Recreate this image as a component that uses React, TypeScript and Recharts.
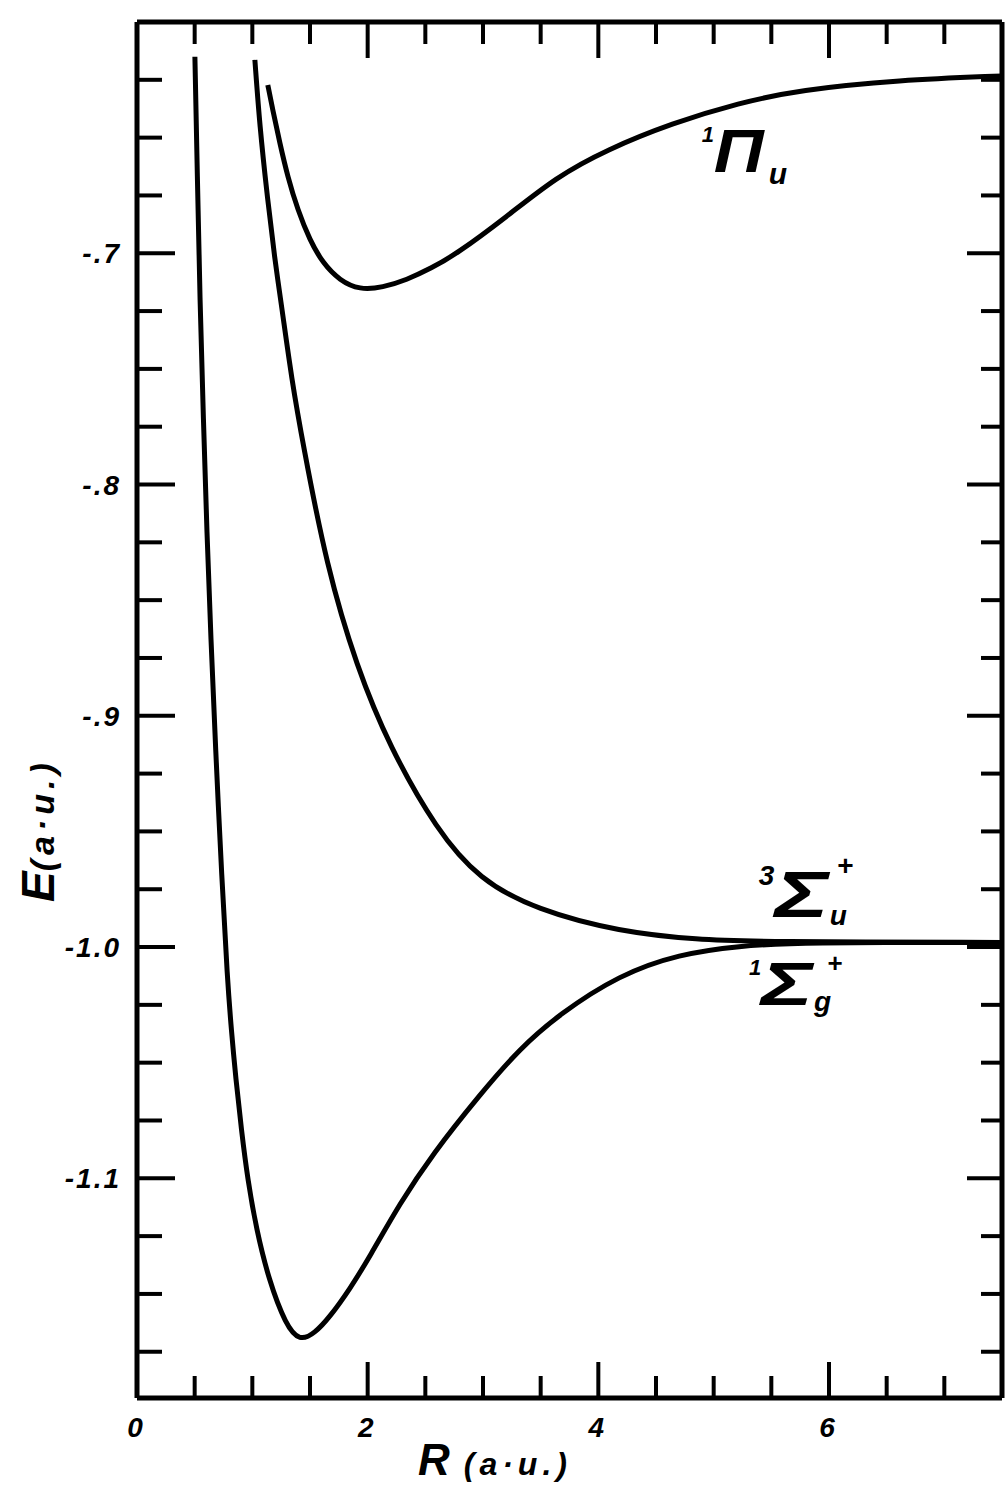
import { LineChart, Line, XAxis, YAxis, ReferenceDot } from "recharts"

// 1Σg+ (ground state)
const sigmaGR = [0.502, 0.524, 0.5455, 0.576, 0.606, 0.641, 0.68, 0.736, 0.784, 0.818, 0.857, 0.905, 0.961, 1.035, 1.143, 1.29, 1.411, 1.541, 1.671, 1.844, 2.017, 2.277, 2.563, 2.97, 3.316, 3.662, 4.182, 4.701, 5.221, 5.74, 7.5]
const sigmaGE = [-0.615, -0.668, -0.72, -0.772, -0.821, -0.867, -0.913, -0.971, -1.014, -1.036, -1.057, -1.079, -1.101, -1.122, -1.144, -1.1635, -1.1705, -1.167, -1.16, -1.148, -1.134, -1.111, -1.0895, -1.064, -1.044, -1.029, -1.012, -1.003, -0.9995, -0.998, -0.998]

// 3Σu+
const sigmaUR = [1.022, 1.065, 1.126, 1.195, 1.255, 1.342, 1.437, 1.645, 1.905, 2.19, 2.597, 2.97, 3.463, 4.182, 4.874, 5.394, 7.5]
const sigmaUE = [-0.6164, -0.6454, -0.6739, -0.7029, -0.7232, -0.7548, -0.782, -0.8356, -0.8789, -0.9134, -0.9493, -0.9709, -0.9839, -0.9934, -0.9969, -0.9977, -0.998]

// 1Πu
const piUR = [1.134, 1.177, 1.238, 1.307, 1.394, 1.498, 1.61, 1.758, 1.931, 2.13, 2.338, 2.55, 2.771, 3.203, 3.636, 4.069, 4.641, 5.221, 5.74, 6.606, 7.5]
const piUE = [-0.6272, -0.638, -0.6523, -0.667, -0.6813, -0.6943, -0.7042, -0.7118, -0.7158, -0.7148, -0.7115, -0.7065, -0.7003, -0.6843, -0.667, -0.6553, -0.6437, -0.635, -0.6294, -0.6251, -0.6233]

const xTicks = [0, 0.5, 1, 1.5, 2, 2.5, 3, 3.5, 4, 4.5, 5, 5.5, 6, 6.5, 7, 7.5]
const xMajor = [2, 4, 6]
const xLabelValues = [0, 2, 4, 6]
const xLabels = ["0", "2", "4", "6"]

const yTicks = [
  -0.6, -0.625, -0.65, -0.675, -0.7, -0.725, -0.75, -0.775, -0.8, -0.825, -0.85, -0.875,
  -0.9, -0.925, -0.95, -0.975, -1.0, -1.025, -1.05, -1.075, -1.1, -1.125, -1.15, -1.175,
]
const yLabelValues = [-0.7, -0.8, -0.9, -1.0, -1.1]
const yLabels = ["-.7", "-.8", "-.9", "-1.0", "-1.1"]

const X_DOMAIN: [number, number] = [0, 7.5]
const Y_DOMAIN: [number, number] = [-1.195, -0.6]

const FONT = "'Liberation Sans', Arial, sans-serif"

const near = (a: number, b: number) => Math.abs(a - b) < 1e-6

function toPoints(rs: number[], es: number[]) {
  return rs.map((r, i) => ({ r, e: es[i] }))
}

function BottomTick(props: any) {
  const { x, y, payload } = props
  const v = payload.value
  const major = xMajor.some((m) => near(m, v))
  const li = xLabelValues.findIndex((m) => near(m, v))
  return (
    <g>
      {v > 0 && v < 7.5 && (
        <line x1={x} x2={x} y1={y} y2={y - (major ? 36 : 22)} stroke="#000" strokeWidth={4} />
      )}
      {li >= 0 && (
        <text x={x - 2} y={y + 39} textAnchor="middle" fontSize={28} fontWeight="bold" fontStyle="italic" fontFamily={FONT}>
          {xLabels[li]}
        </text>
      )}
    </g>
  )
}

function TopTick(props: any) {
  const { x, y, payload } = props
  const v = payload.value
  if (v <= 0 || v >= 7.5) return <g />
  const major = xMajor.some((m) => near(m, v))
  return <line x1={x} x2={x} y1={y} y2={y + (major ? 36 : 22)} stroke="#000" strokeWidth={4} />
}

function LeftTick(props: any) {
  const { x, y, payload } = props
  const v = payload.value
  const li = yLabelValues.findIndex((m) => near(m, v))
  if (near(v, -0.6)) return <g />
  return (
    <g>
      <line x1={x} x2={x + (li >= 0 ? 38 : 25)} y1={y} y2={y} stroke="#000" strokeWidth={4} />
      {li >= 0 && (
        <text x={x - 16} y={y + 10} textAnchor="end" fontSize={28} letterSpacing={2} fontWeight="bold" fontStyle="italic" fontFamily={FONT}>
          {yLabels[li]}
        </text>
      )}
    </g>
  )
}

function RightTick(props: any) {
  const { x, y, payload } = props
  const v = payload.value
  if (near(v, -0.6)) return <g />
  const major = yLabelValues.some((m) => near(m, v))
  return <line x1={x} x2={x - (major ? 35 : 21)} y1={y} y2={y} stroke="#000" strokeWidth={4} />
}

type Part = { t: string; dx: number; dy: number; size: number; len?: number }

function stateLabel(parts: Part[]) {
  return (p: any) => {
    const vb = p.viewBox || {}
    const cx = (vb.x ?? 0) + (vb.width ?? 0) / 2
    const cy = (vb.y ?? 0) + (vb.height ?? 0) / 2
    return (
      <g>
        {parts.map((pt, i) => (
          <text
            key={i}
            x={cx + pt.dx}
            y={cy + pt.dy}
            fontSize={pt.size}
            fontWeight="bold"
            fontStyle="italic"
            fontFamily={FONT}
            textLength={pt.len}
            lengthAdjust={pt.len ? "spacingAndGlyphs" : undefined}
          >
            {pt.t}
          </text>
        ))}
      </g>
    )
  }
}

const piLabel = stateLabel([
  { t: "1", dx: -12, dy: -30, size: 22 },
  { t: "Π", dx: 0, dy: 0, size: 62, len: 50 },
  { t: "u", dx: 55, dy: 12, size: 30 },
])
const sigmaULabel = stateLabel([
  { t: "3", dx: -16, dy: -30, size: 28 },
  { t: "Σ", dx: 0, dy: 2, size: 64, len: 54 },
  { t: "u", dx: 55, dy: 10, size: 28 },
  { t: "+", dx: 62, dy: -40, size: 28 },
])
const sigmaGLabel = stateLabel([
  { t: "1", dx: -12, dy: -30, size: 22 },
  { t: "Σ", dx: 0, dy: 0, size: 62, len: 52 },
  { t: "g", dx: 53, dy: 6, size: 28 },
  { t: "+", dx: 66, dy: -33, size: 26 },
])

export default function App() {
  const curves = [
    toPoints(sigmaGR, sigmaGE),
    toPoints(sigmaUR, sigmaUE),
    toPoints(piUR, piUE),
  ]

  return (
    <div style={{ position: "absolute", left: 0, top: 0, width: 1006, height: 1488, overflow: "hidden", background: "#fff" }}>
      <LineChart width={1006} height={1488} margin={{ top: 0, right: 0, bottom: 0, left: 0 }}>
        <XAxis
          xAxisId="b"
          dataKey="r"
          type="number"
          domain={X_DOMAIN}
          allowDataOverflow
          ticks={xTicks}
          interval={0}
          height={90}
          tickSize={0}
          tickMargin={0}
          tickLine={false}
          axisLine={{ stroke: "#000", strokeWidth: 5 }}
          tick={(p: any) => <BottomTick {...p} />}
        />
        <XAxis
          xAxisId="t"
          orientation="top"
          dataKey="r"
          type="number"
          domain={X_DOMAIN}
          allowDataOverflow
          ticks={xTicks}
          interval={0}
          height={22}
          tickSize={0}
          tickMargin={0}
          tickLine={false}
          axisLine={{ stroke: "#000", strokeWidth: 5 }}
          tick={(p: any) => <TopTick {...p} />}
        />
        <YAxis
          yAxisId="l"
          type="number"
          domain={Y_DOMAIN}
          allowDataOverflow
          ticks={yTicks}
          interval={0}
          width={137}
          tickSize={0}
          tickMargin={0}
          tickLine={false}
          axisLine={{ stroke: "#000", strokeWidth: 5 }}
          tick={(p: any) => <LeftTick {...p} />}
        />
        <YAxis
          yAxisId="r"
          orientation="right"
          type="number"
          domain={Y_DOMAIN}
          allowDataOverflow
          ticks={yTicks}
          interval={0}
          width={4}
          tickSize={0}
          tickMargin={0}
          tickLine={false}
          axisLine={{ stroke: "#000", strokeWidth: 5 }}
          tick={(p: any) => <RightTick {...p} />}
        />
        {curves.map((data, i) => (
          <Line
            key={i}
            data={data}
            dataKey="e"
            xAxisId="b"
            yAxisId="l"
            type="basis"
            stroke="#000"
            strokeWidth={5}
            dot={false}
            activeDot={false}
            isAnimationActive={false}
          />
        ))}
        <ReferenceDot xAxisId="b" yAxisId="l" x={5.0} y={-0.665} r={1} fill="none" stroke="none" label={{ content: piLabel }} />
        <ReferenceDot xAxisId="b" yAxisId="l" x={5.53} y={-0.986} r={1} fill="none" stroke="none" label={{ content: sigmaULabel }} />
        <ReferenceDot xAxisId="b" yAxisId="l" x={5.41} y={-1.025} r={1} fill="none" stroke="none" label={{ content: sigmaGLabel }} />
      </LineChart>
      <div
        style={{
          position: "absolute",
          left: 38,
          top: 830,
          transform: "translate(-50%, -50%) rotate(-90deg)",
          whiteSpace: "nowrap",
          fontFamily: FONT,
          fontWeight: "bold",
          fontStyle: "italic",
          lineHeight: 1,
        }}
      >
        <span style={{ fontSize: 46 }}>E</span>
        <span style={{ fontSize: 34, letterSpacing: 5 }}>(a·u.)</span>
      </div>
      <div
        style={{
          position: "absolute",
          left: 495,
          top: 1460,
          transform: "translate(-50%, -50%)",
          whiteSpace: "nowrap",
          fontFamily: FONT,
          fontWeight: "bold",
          fontStyle: "italic",
          lineHeight: 1,
        }}
      >
        <span style={{ fontSize: 44 }}>R</span>
        <span style={{ fontSize: 32, letterSpacing: 5 }}> (a·u.)</span>
      </div>
    </div>
  )
}
